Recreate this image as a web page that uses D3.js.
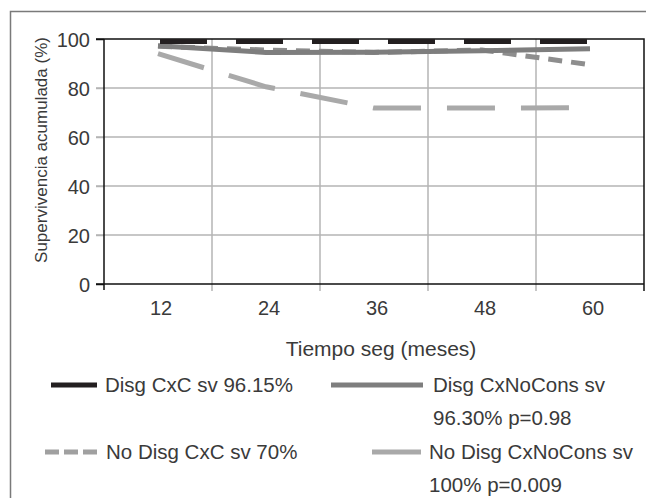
<!DOCTYPE html>
<html>
  <head>
    <meta charset="utf-8">
    <script src="https://d3js.org/d3.v7.min.js"></script>
    <title>Supervivencia acumulada</title>
    <style>
      body { margin: 0; background: #fff; }
      svg text { font-family: "Liberation Sans", Arial, sans-serif; fill: #3a3a3a; }
    </style>
  </head>
  <body>
  <script>
    // data
    var months = ["12", "24", "36", "48", "60"];
    var yTicks = [0, 20, 40, 60, 80, 100];
    var disgCxC = [99, 99, 99, 99, 99];
    var disgCxNoCons = [97.2, 94.5, 94.6, 95.2, 96];
    var noDisgCxC = [97, 95.5, 94.5, 95.5, 89.5];
    var noDisgCxNoCons = [94, 80.5, 71.8, 71.8, 72];

    var series = [
      {name: "No Disg CxNoCons", values: noDisgCxNoCons, color: "#a9a9a9", dash: "48,26", offset: 0},
      {name: "No Disg CxC", values: noDisgCxC, color: "#8e8e8e", dash: "14,9", offset: 0},
      {name: "Disg CxNoCons", values: disgCxNoCons, color: "#7e7e7e", dash: null, offset: 0},
      {name: "Disg CxC", values: disgCxC, color: "#231f20", dash: "47,29", offset: -2}
    ];

    var legend = [
      {lines: ["Disg CxC sv 96.15%"], color: "#231f20", dash: null, x1: 51, x2: 97, tx: 105, y: 385},
      {lines: ["Disg CxNoCons sv", "96.30% p=0.98"], color: "#7e7e7e", dash: null, x1: 331, x2: 423, tx: 433, y: 385},
      {lines: ["No Disg CxC sv 70%"], color: "#a0a0a0", dash: "14,5", x1: 45, x2: 97, tx: 106, y: 452},
      {lines: ["No Disg CxNoCons sv", "100% p=0.009"], color: "#a9a9a9", dash: null, x1: 372, x2: 421, tx: 429, y: 452}
    ];

    var width = 646, height = 498;
    var pLeft = 104, pRight = 644, pTop = 39, pBottom = 284;

    var svg = d3.select("body").append("svg")
                .attr("width", width)
                .attr("height", height);

    // outer frame, cut off at the right and bottom
    svg.append("rect")
       .attr("x", 10.5).attr("y", 11.5)
       .attr("width", 700).attr("height", 600)
       .attr("fill", "none")
       .attr("stroke", "#7a7a7a")
       .attr("stroke-width", 1.5);

    var x = d3.scaleBand().domain(months).range([pLeft, pRight]).padding(0);
    var y = d3.scaleLinear().domain([0, 100]).range([pBottom, pTop]);

    // gridlines (they run past the axes as ticks)
    svg.selectAll(".hgrid")
       .data(yTicks.filter(function(d){ return d > 0 && d < 100; }))
       .enter().append("line")
       .attr("x1", pLeft - 8).attr("x2", pRight)
       .attr("y1", function(d){ return y(d); }).attr("y2", function(d){ return y(d); })
       .attr("stroke", "#b4b4b4").attr("stroke-width", 1.5);

    svg.selectAll(".vgrid")
       .data(months.slice(1))
       .enter().append("line")
       .attr("x1", function(d){ return x(d); }).attr("x2", function(d){ return x(d); })
       .attr("y1", pTop).attr("y2", pBottom + 7)
       .attr("stroke", "#b4b4b4").attr("stroke-width", 1.5);

    // y axis
    var yAxis = d3.axisLeft(y).tickValues(yTicks).tickSize(8).tickPadding(6);
    var gy = svg.append("g").attr("transform", "translate(" + pLeft + ",0)").call(yAxis);
    gy.select(".domain").remove();
    gy.selectAll(".tick line")
      .attr("stroke", function(d){ return (d == 0 || d == 100) ? "#111" : "#b4b4b4"; })
      .attr("stroke-width", 1.5);
    gy.selectAll(".tick text").style("font-size", "20px").attr("dy", "0.36em");

    // x axis labels at band centres
    var xAxis = d3.axisBottom(x).tickSize(0).tickPadding(17);
    var gx = svg.append("g").attr("transform", "translate(3," + pBottom + ")").call(xAxis);
    gx.select(".domain").remove();
    gx.selectAll(".tick text").style("font-size", "20px");

    // plot border
    svg.append("path")
       .attr("d", "M" + (pLeft - 8) + "," + pTop + "H" + pRight + "V" + (pBottom + 7)
                + "M" + pLeft + "," + pTop + "V" + (pBottom + 6)
                + "M" + (pLeft - 8) + "," + pBottom + "H" + pRight)
       .attr("fill", "none")
       .attr("stroke", "#111")
       .attr("stroke-width", 1.5);

    // series lines
    var line = d3.line()
                 .x(function(d, i){ return x(months[i]) + x.bandwidth() / 2; })
                 .y(function(d){ return y(d); });

    svg.selectAll(".series")
       .data(series)
       .enter().append("path")
       .attr("class", "series")
       .attr("d", function(s){ return line(s.values); })
       .attr("fill", "none")
       .attr("stroke", function(s){ return s.color; })
       .attr("stroke-width", 5)
       .attr("stroke-dasharray", function(s){ return s.dash; })
       .attr("stroke-dashoffset", function(s){ return s.offset; });

    // axis titles
    svg.append("text")
       .attr("transform", "translate(47,150) rotate(-90)")
       .attr("text-anchor", "middle")
       .style("font-size", "17px")
       .text("Supervivencia acumulada (%)");

    svg.append("text")
       .attr("x", 381).attr("y", 356)
       .attr("text-anchor", "middle")
       .style("font-size", "21px")
       .text("Tiempo seg (meses)");

    // legend
    var lg = svg.selectAll(".legend")
                .data(legend)
                .enter().append("g")
                .attr("class", "legend");

    lg.append("line")
      .attr("x1", function(d){ return d.x1; }).attr("x2", function(d){ return d.x2; })
      .attr("y1", function(d){ return d.y; }).attr("y2", function(d){ return d.y; })
      .attr("stroke", function(d){ return d.color; })
      .attr("stroke-width", 5)
      .attr("stroke-dasharray", function(d){ return d.dash; });

    lg.each(function(d){
      var t = d3.select(this).append("text").style("font-size", "20.5px");
      d.lines.forEach(function(l, i){
        t.append("tspan")
         .attr("x", d.tx)
         .attr("y", d.y + 7 + i * 33)
         .text(l);
      });
    });
  </script>
</body>
</html>
